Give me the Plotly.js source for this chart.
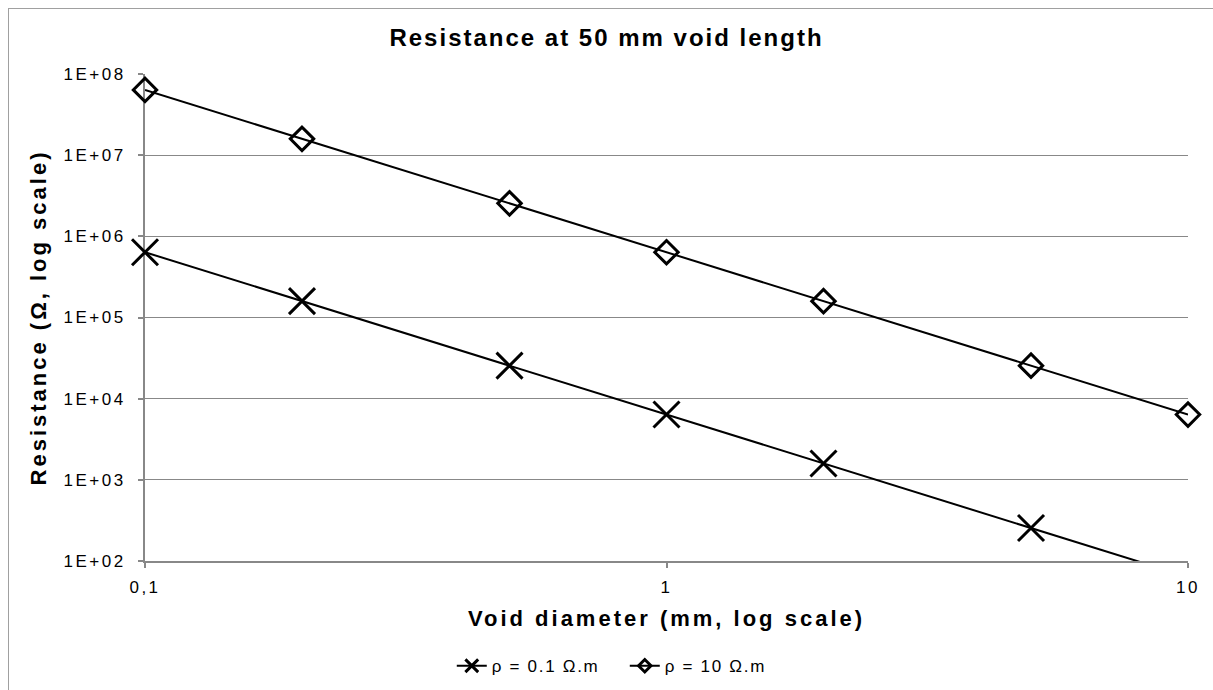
<!DOCTYPE html>
<html>
<head>
<meta charset="utf-8">
<script src="https://cdn.plot.ly/plotly-3.0.1.min.js"></script>
<style>
html,body{margin:0;padding:0;background:#fff;overflow:hidden;}
#chart{width:1213px;height:690px;}
#frame{position:absolute;left:8px;top:8px;width:1240px;height:720px;border:1px solid #a0a0a0;pointer-events:none;}
#chart .gtitle{letter-spacing:2px;}
#chart .xtitle, #chart .ytitle{letter-spacing:3px;}
#chart .xtick text, #chart .ytick text{letter-spacing:2.5px;}
#chart .legendtext{letter-spacing:1.7px;}
</style>
</head>
<body>
<div id="chart"></div>
<div id="frame"></div>
<script>
const diameters = [0.1, 0.2, 0.5, 1, 2, 5, 10];
const rhoLow = [637000, 159000, 25500, 6370, 1590, 255, 63.7];
const rhoHigh = [63700000, 15900000, 2550000, 637000, 159000, 25500, 6370];
const seriesNames = ['ρ = 0.1 Ω.m', 'ρ = 10 Ω.m'];
const yTickVals = [1e2, 1e3, 1e4, 1e5, 1e6, 1e7, 1e8];
const yTickText = ['1E+02', '1E+03', '1E+04', '1E+05', '1E+06', '1E+07', '1E+08'];
const xTickVals = [0.1, 1, 10];
const xTickText = ['0,1', '1', '10'];

const font = '"Liberation Sans", Arial, sans-serif';
const yMin = 2, yMax = 8;
// hide markers of points outside the visible y range (clipped in the reference)
const visibleSize = (vals, s) => vals.map(v => (Math.log10(v) >= yMin - 1e-9 && Math.log10(v) <= yMax + 1e-9) ? s : 0);

const traces = [
  {
    x: diameters, y: rhoLow, name: seriesNames[0], type: 'scatter', mode: 'lines+markers',
    cliponaxis: false,
    line: {color: '#000', width: 2},
    marker: {symbol: 'x-thin-open', size: visibleSize(rhoLow, 26), opacity: 1, color: '#000', line: {color: '#000', width: 3}}
  },
  {
    x: diameters, y: rhoHigh, name: seriesNames[1], type: 'scatter', mode: 'lines+markers',
    cliponaxis: false,
    line: {color: '#000', width: 2},
    marker: {symbol: 'diamond-open', size: visibleSize(rhoHigh, 18), opacity: 1, color: '#000', line: {color: '#000', width: 3}}
  }
];

const layout = {
  width: 1213, height: 690,
  margin: {l: 145, r: 25, t: 74, b: 129, autoexpand: false},
  paper_bgcolor: '#fff', plot_bgcolor: '#fff',
  font: {family: font, color: '#000'},
  title: {text: '<b>Resistance at 50 mm void length</b>', font: {size: 24, family: font, color: '#000'}, x: 0.5, xanchor: 'center', y: 1 - 38/690, yanchor: 'middle'},
  xaxis: {
    type: 'log', range: [-1, 1],
    tickvals: xTickVals, ticktext: xTickText,
    ticks: 'outside', ticklen: 5, tickcolor: '#888', tickwidth: 2,
    ticklabelstandoff: 5,
    showline: true, linecolor: '#888', linewidth: 2,
    showgrid: false, zeroline: false, layer: 'below traces',
    tickfont: {size: 17, family: font, color: '#000'},
    title: {text: '<b>Void diameter (mm, log scale)</b>', font: {size: 22, family: font, color: '#000'}, standoff: 14}
  },
  yaxis: {
    type: 'log', range: [yMin, yMax],
    tickvals: yTickVals, ticktext: yTickText,
    ticks: 'outside', ticklen: 5, tickcolor: '#888', tickwidth: 2,
    ticklabelstandoff: 9,
    showline: true, linecolor: '#888', linewidth: 2,
    showgrid: true, gridcolor: '#888', gridwidth: 1,
    zeroline: false, layer: 'below traces',
    tickfont: {size: 17, family: font, color: '#000'},
    title: {text: '<b>Resistance (Ω, log scale)</b>', font: {size: 22, family: font, color: '#000'}, standoff: 23}
  },
  showlegend: true,
  legend: {orientation: 'h', x: 0.46, xanchor: 'center', y: -0.216, yanchor: 'middle',
    entrywidth: 128, entrywidthmode: 'pixels',
    font: {size: 17, family: font, color: '#000'}},
};

Plotly.newPlot('chart', traces, layout, {displayModeBar: false, staticPlot: true}).then(gd => {
  // shrink the legend symbols to the reference's small legend glyphs
  const scales = [0.8, 0.6];
  gd.querySelectorAll('.legend .traces').forEach((g, i) => {
    g.querySelectorAll('.legendpoints path.scatterpts').forEach(p => {
      const t = p.getAttribute('transform') || '';
      p.setAttribute('transform', t + ' scale(' + scales[i] + ')');
      p.style.vectorEffect = 'non-scaling-stroke';
      p.style.opacity = 1;
    });
  });
});
</script>
</body>
</html>
